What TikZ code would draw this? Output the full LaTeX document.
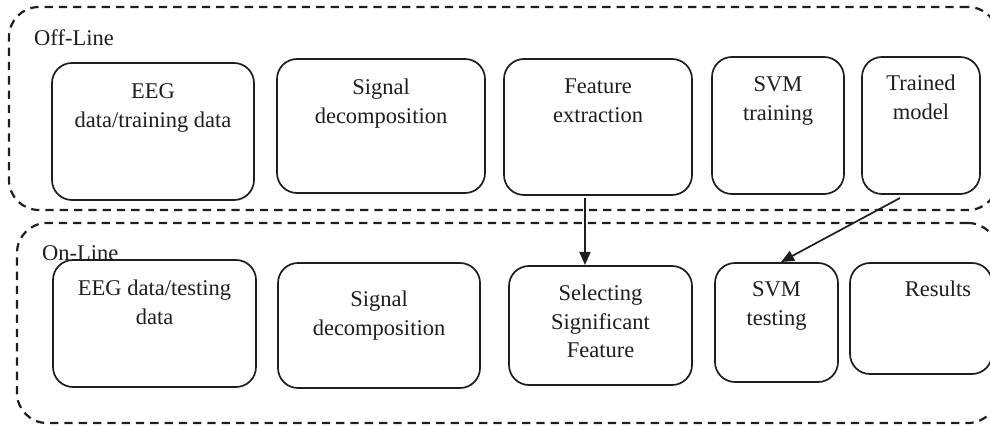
\documentclass[tikz,border=0pt]{standalone}
\usepackage{fontspec}
\setmainfont{Liberation Serif}
\usetikzlibrary{arrows.meta}
\definecolor{ink}{RGB}{30,30,30}
\tikzset{
  box/.style={draw=ink, rounded corners=20pt, line width=1.7pt, inner sep=0pt, outer sep=0pt, anchor=north west, text=ink, font=\fontsize{22.5}{28.5}\selectfont},
  group/.style={draw=ink, dash pattern=on 8.3pt off 6pt, rounded corners=30pt, line width=2.2pt, inner sep=0pt, outer sep=0pt, anchor=north west},
  grouplabel/.style={anchor=base west, inner sep=0pt, text=ink, font=\fontsize{22.5}{28.5}\selectfont},
  arr/.style={draw=ink, -{Triangle[length=13pt,width=11pt]}, line width=1.7pt}
}
\newcommand\boxtext[4]{\parbox[c][#2pt][t]{#1pt}{\centering\rule{0pt}{#3pt}#4}}
\begin{document}
\begin{tikzpicture}[x=1pt,y=-1pt]
\clip (0,0) rectangle (990,427);
\useasboundingbox (0,0) rectangle (990,427);
% groups
\node[group, minimum width=989pt, minimum height=203pt] (off) at (9,7) {};
\node[group, minimum width=981pt, minimum height=200pt] (on) at (17,223) {};
\node[grouplabel] (offlbl) at (34,45.7) {Off-Line};
\node[grouplabel] (onlbl) at (42,260.5) {On-Line};
% off-line boxes
\node[box] (o1) at (52,63) {\boxtext{202}{137}{36}{EEG\\data/training data}};
\node[box] (o2) at (277,59) {\boxtext{208}{134}{36}{Signal\\decomposition}};
\node[box] (o3) at (504,59) {\boxtext{188}{136}{35}{Feature\\extraction}};
\node[box] (o4) at (712,57) {\boxtext{132}{137}{35}{SVM\\training}};
\node[box] (o5) at (862,57) {\boxtext{118}{137}{34}{Trained\\model}};
% on-line boxes
\node[box] (n1) at (53,260) {\boxtext{203}{127}{36}{EEG data/testing\\data}};
\node[box] (n2) at (278,263) {\boxtext{202}{125}{44}{Signal\\decomposition}};
\node[box] (n3) at (509,266) {\boxtext{183}{119}{35}{Selecting\\Significant\\Feature}};
\node[box] (n4) at (715,263) {\boxtext{123}{119}{34}{SVM\\testing}};
\node[box] (n5) at (850,263) {\boxtext{142}{111}{34}{\hspace*{34pt}Results}};
% arrows
\draw[arr] ([xshift=-13pt,yshift=-3pt]o3.south) -- ([xshift=-15.5pt,yshift=1pt]n3.north);
\draw[arr] ([xshift=-21pt,yshift=-4pt]o5.south) -- ([xshift=4.5pt,yshift=1pt]n4.north);
\end{tikzpicture}
\end{document}
